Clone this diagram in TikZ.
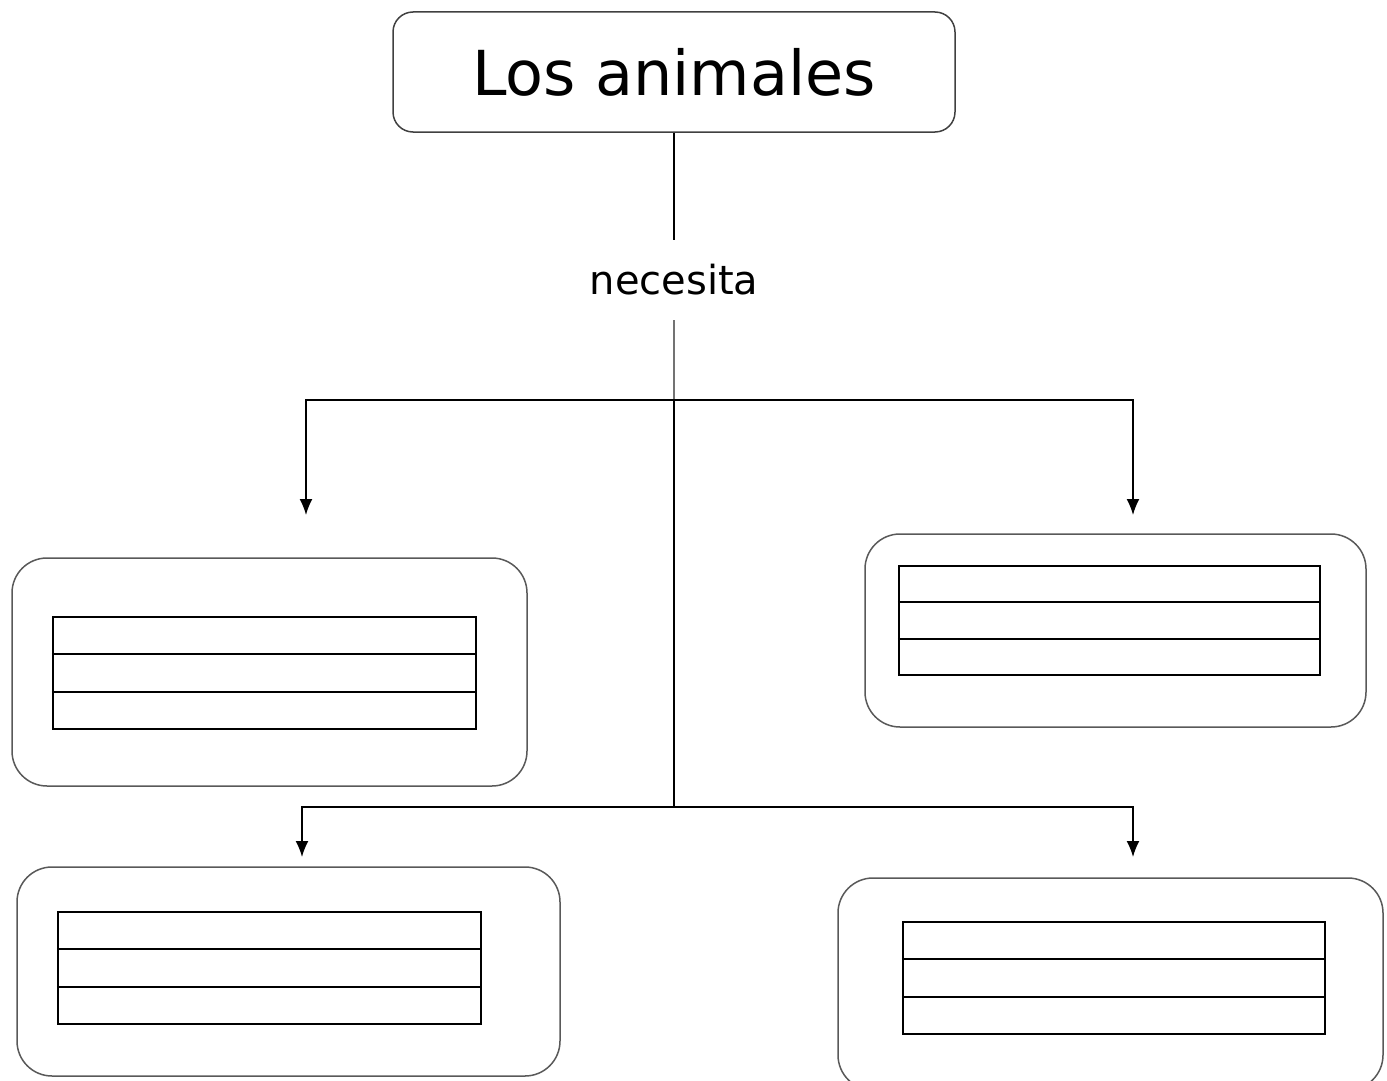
\documentclass[tikz,border=0pt]{standalone}
\usepackage{fontspec}
\setmainfont{DejaVu Sans}
\usetikzlibrary{arrows.meta,positioning,calc}
\tikzstyle{titlebox}=[draw=black!75, rounded corners=20pt, line width=1.5pt, minimum width=562pt, minimum height=120pt, inner sep=0pt, font=\fontsize{62}{70}\selectfont]
\tikzstyle{verbnode}=[inner sep=0pt, minimum height=80pt, font=\fontsize{40}{46}\selectfont]
\tikzstyle{groupbox}=[draw=black!65, rounded corners=35pt, line width=1.5pt, inner sep=0pt]
\tikzstyle{fillbox}=[draw, line width=2.2pt, inner sep=0pt]
\tikzstyle{rowline}=[line width=2.2pt]
\tikzstyle{link}=[line width=1.6pt]
\tikzstyle{needArrow}=[line width=1.6pt, -{Latex[length=16pt,width=13pt]}]

\begin{document}
\begin{tikzpicture}[x=1pt, y=-1pt]
    \useasboundingbox (0,0) rectangle (1387,1081);

    \node[titlebox] (title) at (674, 72) {Los animales};
    \node[verbnode] (need) at (674, 280) {necesita};

    % branch points
    \coordinate (hub) at (674, 400);
    \coordinate (hubLow) at (674, 807);
    \coordinate (armTL) at (306, 515);
    \coordinate (armTR) at (1133, 515);
    \coordinate (armBL) at (302, 857);
    \coordinate (armBR) at (1133, 857);

    % boxes
    \node[groupbox, minimum width=515pt, minimum height=228pt] (boxTL) at (269.5, 672) {};
    \node[fillbox, minimum width=423pt, minimum height=112pt] (tlIn) at (264.5, 673) {};
    \node[groupbox, minimum width=501pt, minimum height=193pt] (boxTR) at (1115.5, 630.5) {};
    \node[fillbox, minimum width=421pt, minimum height=109pt] (trIn) at (1109.5, 620.5) {};
    \node[groupbox, minimum width=543pt, minimum height=209pt] (boxBL) at (288.5, 971.5) {};
    \node[fillbox, minimum width=423pt, minimum height=112pt] (blIn) at (269.5, 968) {};
    \node[groupbox, minimum width=545pt, minimum height=212pt] (boxBR) at (1110.5, 984) {};
    \node[fillbox, minimum width=422pt, minimum height=112pt] (brIn) at (1114, 978) {};

    \foreach \b in {tlIn, trIn, blIn, brIn} {
        \draw[rowline] ($(\b.north west)!1/3!(\b.south west)$) -- ($(\b.north east)!1/3!(\b.south east)$);
        \draw[rowline] ($(\b.north west)!2/3!(\b.south west)$) -- ($(\b.north east)!2/3!(\b.south east)$);
    }

    % connectors
    \draw[link] (title.south) -- (need.north);
    \draw[link, draw=black!55] (need.south) -- (hub);
    \draw[needArrow] (hub) -| (armTL);
    \draw[needArrow] (hub) -| (armTR);
    \draw[link] (hub) -- (hubLow);
    \draw[needArrow] (hubLow) -| (armBL);
    \draw[needArrow] (hubLow) -| (armBR);

\end{tikzpicture}
\end{document}
